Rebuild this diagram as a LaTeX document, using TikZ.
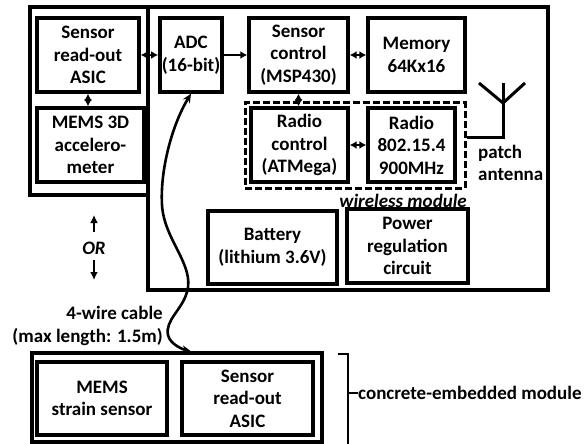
\documentclass[tikz,border=0pt]{standalone}
\usepackage{fontspec}
\setmainfont{Carlito}
\usepackage{tikz}
\usetikzlibrary{arrows.meta,positioning,calc}
\tikzset{
  blockBox/.style={draw, line width=3.4pt, align=center, inner sep=2pt, font=\fontsize{19}{22.5}\selectfont\bfseries},
  frameBox/.style={draw, line width=3.4pt, inner sep=0pt},
  frameLine/.style={line width=3.4pt},
  wireBox/.style={draw, line width=3pt, dash pattern=on 7pt off 3pt, inner sep=0pt},
  linkArrow/.style={-{Latex[length=7pt,width=8pt]}, line width=2.8pt},
  bothArrow/.style={{Latex[length=7pt,width=8pt]}-{Latex[length=7pt,width=8pt]}, line width=2.8pt},
  cableArrow/.style={{Stealth[length=9pt,width=8pt]}-{Stealth[length=9pt,width=8pt]}, line width=2.6pt},
  orArrow/.style={-{Latex[length=8pt,width=8pt]}, line width=2.8pt},
  antLine/.style={line width=3pt},
  braceLine/.style={line width=2.8pt},
  noteLabel/.style={font=\fontsize{19}{22.5}\selectfont\bfseries, inner sep=0pt},
  wireLabel/.style={font=\fontsize{19}{22.5}\selectfont\bfseries\itshape, inner sep=0pt}
}
\begin{document}
\begin{tikzpicture}[x=1pt,y=-1pt]
  \useasboundingbox (0,0) rectangle (587,444);
  % enclosures
  \draw[frameLine] (30,7) rectangle (148,195);
  \draw[frameLine] (148,7) rectangle (548,290);
  \node[wireBox, minimum width=220pt, minimum height=85pt] (wl) at (355,145.5) {};
  \node[frameBox, minimum width=290pt, minimum height=89pt] (embed) at (177,397.5) {};
  % blocks
  \foreach \nm/\cx/\cy/\w/\h/\txt in {
    asic/88/55/102/74/{Sensor\\read-out\\ASIC},
    accel/90.5/145/107/74/{MEMS 3D\\accelero-\\meter},
    adc/191/55/62/74/{ADC\\(16-bit)},
    ctrl/298.5/55/99/74/{Sensor\\control\\(MSP430)},
    mem/416.5/55/97/74/{Memory\\64Kx16},
    rctrl/299.5/145/97/74/{Radio\\control\\(ATMega)},
    radio/411.5/145/87/74/{Radio\\802.15.4\\900MHz},
    batt/272.5/247.5/129/73/{Battery\\(lithium 3.6V)},
    power/407.5/246/121/74/{Power\\regulation\\circuit},
    strain/102/398.5/130/73/{MEMS\\strain sensor},
    asicB/247.5/398.5/131/73/{Sensor\\read-out\\ASIC}}
    \node[blockBox, minimum width=\w pt, minimum height=\h pt] (\nm) at (\cx,\cy) {\txt};
  % links
  \draw[bothArrow] (asic) -- (adc);
  \draw[linkArrow] (adc) -- (ctrl);
  \draw[bothArrow] (ctrl) -- (mem);
  \draw[bothArrow] (asic.south) -- (asic.south |- accel.north);
  \draw[bothArrow] (ctrl.south) -- (ctrl.south |- rctrl.north);
  \draw[bothArrow] (rctrl) -- (radio);
  % antenna
  \coordinate (antTop) at (503,83);
  \coordinate (antFoot) at (503,137);
  \draw[antLine] (479,83) -- (503,103) -- (525,83);
  \draw[antLine] (antTop) -- (antFoot) -- (antFoot -| wl.east);
  \node[noteLabel, align=left, anchor=west] (antTxt) at (478,163) {patch\\antenna};
  \node[wireLabel, anchor=base east] (wlTxt) at (467,207) {wireless module};
  % cable
  \draw[cableArrow] (adc.south) .. controls (172,125) and (160,170) .. (162,205)
    .. controls (164,240) and (195,265) .. (187,292)
    .. controls (182,310) and (165,320) .. (168,335)
    .. controls (170,345) and (185,350) .. (embed.north -| adc.south);
  \node[noteLabel, align=right, anchor=east] (cableTxt) at (163,326) {4-wire cable\\(max length: 1.5m)};
  % OR
  \node[wireLabel] (orTxt) at (94,248) {OR};
  \draw[orArrow] ($(orTxt)+(0,-16)$) -- ($(orTxt)+(0,-33)$);
  \draw[orArrow] ($(orTxt)+(0,12)$) -- ($(orTxt)+(0,32)$);
  % embedded module bracket
  \coordinate (brTop) at (338,354);
  \node[noteLabel, anchor=west] (cemTxt) at (358,393) {concrete-embedded module};
  \draw[braceLine] (brTop) -- ++(10,0) -- ++(0,92);
  \draw[braceLine] (cemTxt.west) -- ++(-10,0);
\end{tikzpicture}
\end{document}
